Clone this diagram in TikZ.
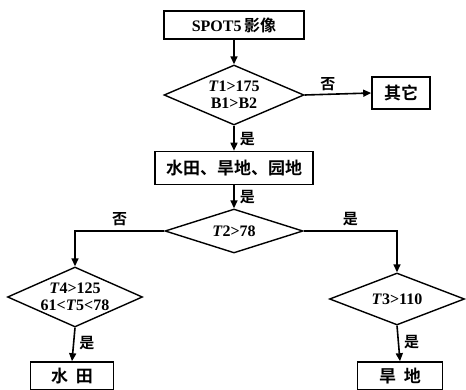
\documentclass[tikz,border=0pt]{standalone}
\usepackage{fontspec}
\setmainfont{Liberation Serif}
\newfontfamily\cjk{Noto Sans CJK SC}[BoldFont={* Bold}]
\usetikzlibrary{shapes.geometric,arrows.meta}
\newcommand\zh[1]{{\cjk\bfseries #1}}
\newcommand\Tv{\textit{T}}
\tikzset{
  box/.style={draw, line width=1.6pt, rectangle, inner sep=0pt, font=\bfseries\fontsize{16}{18}\selectfont},
  dia/.style={draw, line width=1.4pt, diamond, inner sep=0pt},
  dtext/.style={align=center, inner sep=0pt, font=\bfseries\fontsize{16}{17}\selectfont},
  arr/.style={line width=1.6pt, -{Triangle[length=8pt,width=7pt]}},
  lab/.style={font=\fontsize{15}{15}\selectfont, inner sep=1pt}
}
\begin{document}
\begin{tikzpicture}[x=1pt,y=-1pt]
\useasboundingbox (0,0) rectangle (466,390);
\node[box, minimum width=140pt, minimum height=28pt] (spot) at (234,25) {SPOT5\,\zh{影像}};
\node[dia, minimum width=140pt, minimum height=60pt] (d1) at (234,95) {};
\node[dtext] (d1t) at (d1.center) {\Tv1>175\\B1>B2};
\node[box, minimum width=58pt, minimum height=32pt] (other) at (401,93) {\zh{\fontsize{17}{17}\selectfont 其它}};
\node[box, minimum width=158pt, minimum height=33pt] (cls) at (234,168) {\zh{\fontsize{17}{17}\selectfont 水田、旱地、园地}};
\node[dia, minimum width=138pt, minimum height=44pt] (d2) at (234,231) {};
\node[dtext] (d2t) at (d2.center) {\Tv2>78};
\node[dia, minimum width=135pt, minimum height=60pt] (d3) at (75,297) {};
\node[dtext] (d3t) at (d3.center) {\Tv4>125\\61<\Tv5<78};
\node[dia, minimum width=135pt, minimum height=52pt] (d4) at (397,299) {};
\node[dtext] (d4t) at (d4.center) {\Tv3>110};
\node[box, minimum width=83pt, minimum height=28pt] (wt) at (72,376) {\zh{\fontsize{17}{17}\selectfont 水\ \ 田}};
\node[box, minimum width=85pt, minimum height=28pt] (hd) at (400,376) {\zh{\fontsize{17}{17}\selectfont 旱\ \ 地}};

\draw[arr] (spot.south) -- (d1.north);
\draw[arr] (d1.east) -- node[lab, above=2pt, pos=0.35] {\zh{否}} (other.west);
\draw[arr] (d1.south) -- node[lab, right=4pt, pos=0.55] {\zh{是}} (cls.north);
\draw[arr] (cls.south) -- node[lab, right=4pt, pos=0.5] {\zh{是}} (d2.north);
\draw[arr] (d2.west) -| node[lab, above=3pt, pos=0.25] {\zh{否}} (d3.north);
\draw[arr] (d2.east) -| node[lab, above=3pt, pos=0.25] {\zh{是}} (d4.north);
\draw[arr] (d3.south) -- node[lab, right=4pt, pos=0.45] {\zh{是}} (wt.north);
\draw[arr] (d4.south) -- node[lab, right=4pt, pos=0.45] {\zh{是}} (hd.north);
\end{tikzpicture}
\end{document}
